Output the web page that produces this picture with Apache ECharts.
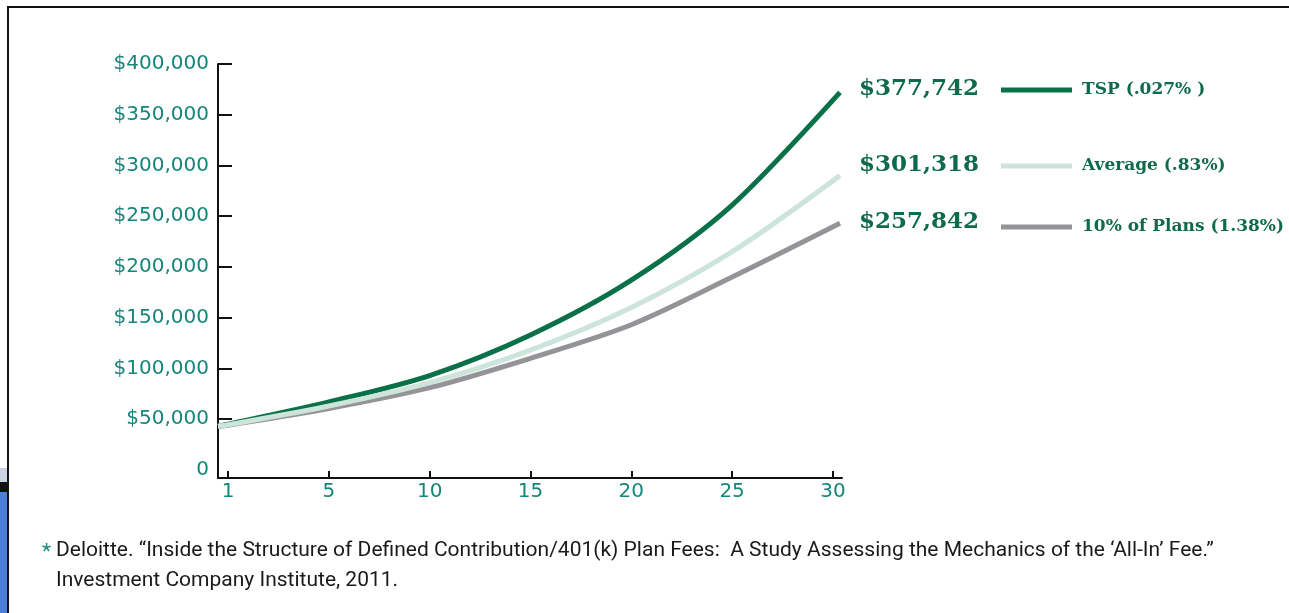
<!DOCTYPE html>
<html><head><meta charset="utf-8">
<script src="https://cdn.jsdelivr.net/npm/echarts@6/dist/echarts.min.js"></script>
<style>html,body{margin:0;padding:0;background:#fff}#c{width:1289px;height:613px}</style>
</head><body><div id="c"></div>
<script>
// x positions (tick index; ticks are evenly spaced in the picture) and values
const tickLabels = ['1', '5', '10', '15', '20', '25', '30'];
const xPos = [-0.1, 0, 1, 2, 3, 4, 5, 6.07];
const tsp = [43000, 45000, 67000, 93000, 133000, 187000, 261000, 372000];
const avg = [43000, 44500, 63000, 86000, 118000, 160000, 215000, 290000];
const low = [43000, 44000, 60500, 81000, 110000, 143000, 190000, 243000];
const yTicks = [0, 50000, 100000, 150000, 200000, 250000, 300000, 350000, 400000];
const seriesNames = ['TSP (.027% )', 'Average (.83%)', '10% of Plans (1.38%)'];
const endValueLabels = ['$377,742', '$301,318', '$257,842'];
const colors = ['#0a7049', '#cde4da', '#949498'];
const footLine1 = 'Deloitte. \u201CInside the Structure of Defined Contribution/401(k) Plan Fees:  A Study Assessing the Mechanics of the \u2018All-In\u2019 Fee.\u201D';
const footLine2 = 'Investment Company Institute, 2011.';

const pairs = arr => arr.map((v, i) => [xPos[i], v]);
const chart = echarts.init(document.getElementById('c'), null, {renderer: 'canvas'});
const labelColor = '#16857a';
const serifGreen = '#0d6a4a';
const legendTops = [80, 156, 217];
const valueTops = [89, 165, 222];

chart.setOption({
  animation: false,
  backgroundColor: '#fff',
  grid: {left: 218, right: 447, top: 64, bottom: 135, containLabel: false},
  xAxis: {
    type: 'value', min: -0.1, max: 6.09,
    splitLine: {show: false},
    axisLine: {show: true, onZero: false, lineStyle: {color: '#111', width: 2}},
    axisTick: {show: true, inside: true, length: 7, lineStyle: {color: '#111', width: 2}, customValues: [0, 1, 2, 3, 4, 5, 6]},
    axisLabel: {customValues: [0, 1, 2, 3, 4, 5, 6], formatter: v => tickLabels[Math.round(v)], color: labelColor,
      fontFamily: 'DejaVu Sans', fontSize: 20, margin: 4}
  },
  yAxis: {
    type: 'value', min: -8000, max: 400000,
    splitLine: {show: false},
    axisLine: {show: true, onZero: false, lineStyle: {color: '#111', width: 2}},
    axisTick: {show: true, inside: true, length: 14, lineStyle: {color: '#111', width: 2}, customValues: yTicks.slice(1)},
    axisLabel: {customValues: yTicks, formatter: v => v === 0 ? '0' : '$' + v.toLocaleString('en-US'),
      color: labelColor, fontFamily: 'DejaVu Sans', fontSize: 20, margin: 9}
  },
  legend: seriesNames.map((n, i) => ({
    data: [n], left: 1001, top: legendTops[i], padding: 0,
    icon: 'rect', itemWidth: 71, itemHeight: 5,
    textStyle: {color: serifGreen, fontFamily: 'DejaVu Serif', fontWeight: 'bold', fontSize: 17, lineHeight: 20, padding: [0, 0, 0, 5]}
  })),
  series: [
    {name: seriesNames[0], type: 'line', data: pairs(tsp), z: 2},
    {name: seriesNames[2], type: 'line', data: pairs(low), z: 3},
    {name: seriesNames[1], type: 'line', data: pairs(avg), z: 4}
  ].map(s => Object.assign(s, {
    smooth: 0.3, symbol: 'none',
    color: colors[seriesNames.indexOf(s.name)],
    lineStyle: {width: 5, cap: 'butt', color: colors[seriesNames.indexOf(s.name)]}
  })),
  graphic: [
    // frame
    {type: 'rect', shape: {x: 7, y: 6, width: 1290, height: 2}, style: {fill: '#111'}},
    {type: 'rect', shape: {x: 7, y: 6, width: 2, height: 620}, style: {fill: '#111'}},
    {type: 'rect', shape: {x: 0, y: 468, width: 7, height: 14}, style: {fill: '#c9d3e3'}},
    {type: 'rect', shape: {x: 0, y: 482, width: 7, height: 10}, style: {fill: '#111'}},
    {type: 'rect', shape: {x: 0, y: 492, width: 7, height: 130}, style: {fill: '#4c80d6'}},
    // end value labels
    ...endValueLabels.map((t, i) => ({
      type: 'text', x: 859, y: valueTops[i],
      style: {text: t, fill: serifGreen, font: 'bold 23px "DejaVu Serif"', verticalAlign: 'middle'}
    })),
    // footnote
    {type: 'text', x: 42, y: 553, style: {text: '*', fill: labelColor, font: '21px Roboto', verticalAlign: 'middle'}},
    {type: 'text', x: 56, y: 551, style: {text: footLine1, fill: '#1a1a1a', font: '21px Roboto', verticalAlign: 'middle'}},
    {type: 'text', x: 56, y: 581, style: {text: footLine2, fill: '#1a1a1a', font: '21px Roboto', verticalAlign: 'middle'}}
  ]
});
</script></body></html>
